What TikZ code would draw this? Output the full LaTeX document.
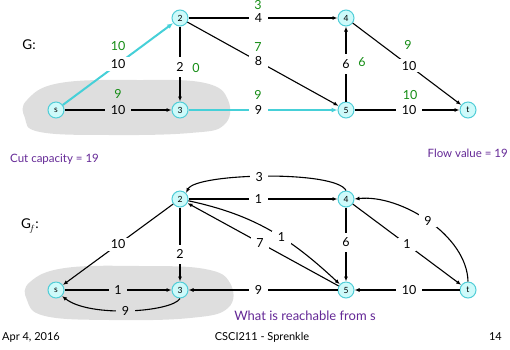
\documentclass[tikz,border=0pt]{standalone}
\usepackage{fontspec}
\setmainfont{Lato}
\usetikzlibrary{arrows.meta}
\definecolor{cyanE}{RGB}{70,208,216}
\definecolor{nodeF}{RGB}{205,250,250}
\definecolor{nodeD}{RGB}{80,205,215}
\definecolor{flowG}{RGB}{20,140,20}
\definecolor{purp}{RGB}{100,40,150}
\definecolor{blobG}{RGB}{222,222,222}
\tikzset{
  vtx/.style={circle,draw=nodeD,fill=nodeF,line width=1pt,minimum size=16pt,inner sep=0pt,font=\fontsize{8.5}{9}\selectfont},
  edge/.style={line width=1.1pt,-{Latex[length=5pt,width=4pt]}},
  cut/.style={line width=2pt,draw=cyanE,-{Latex[length=6pt,width=5pt]}},
  lab/.style={fill=white,text=black,inner xsep=5.5pt,inner ysep=2pt,font=\fontsize{12.5}{14}\selectfont},
  glab/.style={text=flowG,inner sep=1pt,font=\fontsize{12.5}{14}\selectfont},
  note/.style={text=purp,inner sep=0pt,font=\fontsize{11.5}{13}\selectfont},
  foot/.style={inner sep=0pt,font=\fontsize{11}{12}\selectfont},
}
\begin{document}
\begin{tikzpicture}[x=1pt,y=-1pt]
\useasboundingbox (0,0) rectangle (510,349);
% blobs
\fill[blobG] plot[smooth cycle,tension=0.7] coordinates {(27,100) (60,83) (140,80) (205,83) (228,100) (224,125) (190,133) (110,135) (40,132) (25,118)};
\fill[blobG] plot[smooth cycle,tension=0.7] coordinates {(30,282) (65,268) (140,266) (205,269) (230,283) (228,308) (190,318) (110,320) (45,316) (27,300)};
% top graph nodes
\node[vtx] (s) at (56,110) {s};
\node[vtx] (n2) at (180,18) {2};
\node[vtx] (n3) at (180,110) {3};
\node[vtx] (n4) at (346,18) {4};
\node[vtx] (n5) at (346,110) {5};
\node[vtx] (t) at (468,110) {t};
\node[inner sep=0pt,font=\fontsize{13.5}{15}\selectfont] (G) at (29,45) {G:};
% top edges
\draw[cut] (s) -- node[lab,pos=0.5] (l1) {10} (n2);
\node[glab] at (118,46) {10};
\draw[edge] (s) -- node[lab,fill=blobG] {10} (n3);
\node[glab] at (118,94) {9};
\draw[edge] (n2) -- node[lab,pos=0.54,inner xsep=2pt,inner ysep=5pt] {2} (n3);
\node[glab] at (196,68) {0};
\draw[edge] (n2) -- node[lab,pos=0.47] {4} (n4);
\node[glab,inner sep=0pt] at (258,5.5) {3};
\draw[edge] (n2) -- node[lab,pos=0.47] {8} (n5);
\node[glab] at (258,47) {7};
\draw[cut] (n3) -- node[lab,pos=0.47] {9} (n5);
\node[glab] at (258,95) {9};
\draw[edge] (n5) -- node[lab,inner xsep=2pt,inner ysep=5pt] {6} (n4);
\node[glab] at (362,62) {6};
\draw[edge] (n4) -- node[lab,pos=0.52] {10} (t);
\node[glab] at (408,45) {9};
\draw[edge] (n5) -- node[lab,pos=0.52] {10} (t);
\node[glab] at (410,95) {10};
\node[note,anchor=west] (cc) at (10,159) {Cut capacity = 19};
\node[note,anchor=east] (fv) at (508,153) {Flow value = 19};
% bottom graph nodes
\node[vtx] (bs) at (56,290) {s};
\node[vtx] (b2) at (180,199) {2};
\node[vtx] (b3) at (180,290) {3};
\node[vtx] (b4) at (346,199) {4};
\node[vtx] (b5) at (346,290) {5};
\node[vtx] (bt) at (468,290) {t};
\node[inner sep=0pt,font=\fontsize{13.5}{15}\selectfont] (Gf) at (30,226) {G$_{\!f}$:};
% bottom edges
\draw[edge] (b4.north) .. controls (336,170) and (196,173) .. node[lab,pos=0.53] {3} (b2.north east);
\draw[edge] (b2) -- node[lab,pos=0.47] {1} (b4);
\draw[edge] (b2) to[out=-12,in=137] node[lab,pos=0.58] {1} (b5);
\draw[edge] (b5) -- node[lab,pos=0.52] {7} (b2);
\draw[edge] (b2) -- node[lab,pos=0.5] {10} (bs);
\draw[edge] (b2) -- node[lab,pos=0.63,inner xsep=2pt,inner ysep=5pt] {2} (b3);
\draw[edge] (bs) -- node[lab,fill=blobG] {1} (b3);
\draw[edge] (b3.south) .. controls (172,312) and (90,318) .. node[lab,fill=blobG,pos=0.52] {9} (bs.south east);
\draw[edge] (b5) -- node[lab,pos=0.53] {9} (b3);
\draw[edge] (b4) -- node[lab,pos=0.47,inner xsep=2pt,inner ysep=5pt] {6} (b5);
\draw[edge] (b4) -- node[lab,pos=0.5] {1} (bt);
\draw[edge] (bt.north) .. controls (467,235) and (400,194) .. node[lab,pos=0.5] {9} (b4.east);
\draw[edge] (bt) -- node[lab,pos=0.48] {10} (b5);
\node[note,font=\fontsize{13}{14}\selectfont] (wr) at (305,316) {What is reachable from s};
% footer
\node[foot,anchor=west] (f1) at (2,337) {Apr 4, 2016};
\node[foot] (f2) at (262,337) {CSCI211 - Sprenkle};
\node[foot,anchor=east] (f3) at (502,337) {14};
\end{tikzpicture}
\end{document}
